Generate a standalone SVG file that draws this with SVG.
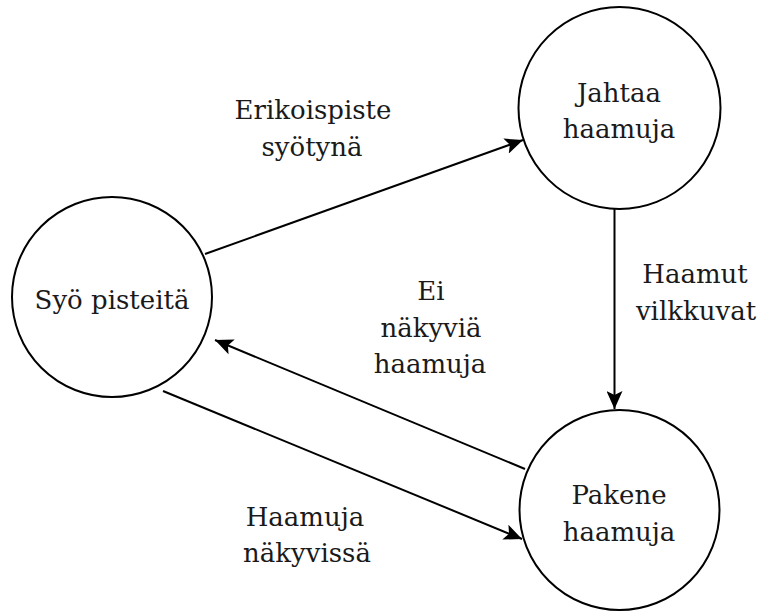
<svg xmlns="http://www.w3.org/2000/svg" width="763" height="612" viewBox="0 0 763 612">
<defs>
<style>
.node{fill:#ffffff;stroke:#000000;stroke-width:2}
.edge{fill:none;stroke:#000000;stroke-width:2}
.t{font-family:'DejaVu Serif',serif;font-size:26px;fill:#1a1a1a;text-anchor:middle}
</style>
<marker id="arr" markerUnits="userSpaceOnUse" markerWidth="20" markerHeight="16" viewBox="0 0 20 16" refX="18" refY="8" orient="auto">
<path d="M0,0 L18,8 L0,16 L4,8 z" fill="#000000"/>
</marker>
</defs>
<rect width="763" height="612" fill="#ffffff"/>
<g id="connectors">
<line class="edge" x1="205" y1="254" x2="523" y2="140" marker-end="url(#arr)"/>
<line class="edge" x1="614.5" y1="209" x2="614.5" y2="409" marker-end="url(#arr)"/>
<line class="edge" x1="525" y1="469" x2="215" y2="340" marker-end="url(#arr)"/>
<line class="edge" x1="163" y1="391" x2="522" y2="539" marker-end="url(#arr)"/>
</g>
<g id="node-syo">
<circle class="node" cx="112" cy="297" r="100"/>
<text class="t" x="112" y="309">Syö pisteitä</text>
</g>
<g id="node-jahtaa">
<circle class="node" cx="619.5" cy="108" r="101"/>
<text class="t" x="619" y="102">Jahtaa</text>
<text class="t" x="619" y="138">haamuja</text>
</g>
<g id="node-pakene">
<circle class="node" cx="619.5" cy="510" r="100"/>
<text class="t" x="619" y="504">Pakene</text>
<text class="t" x="619" y="541">haamuja</text>
</g>
<g id="labels">
<text class="t" x="313" y="119">Erikoispiste</text>
<text class="t" x="312" y="156">syötynä</text>
<text class="t" x="695" y="283">Haamut</text>
<text class="t" x="696" y="320">vilkkuvat</text>
<text class="t" x="431" y="300">Ei</text>
<text class="t" x="431" y="337">näkyviä</text>
<text class="t" x="430" y="373">haamuja</text>
<text class="t" x="305" y="526">Haamuja</text>
<text class="t" x="307" y="562">näkyvissä</text>
</g>
</svg>
